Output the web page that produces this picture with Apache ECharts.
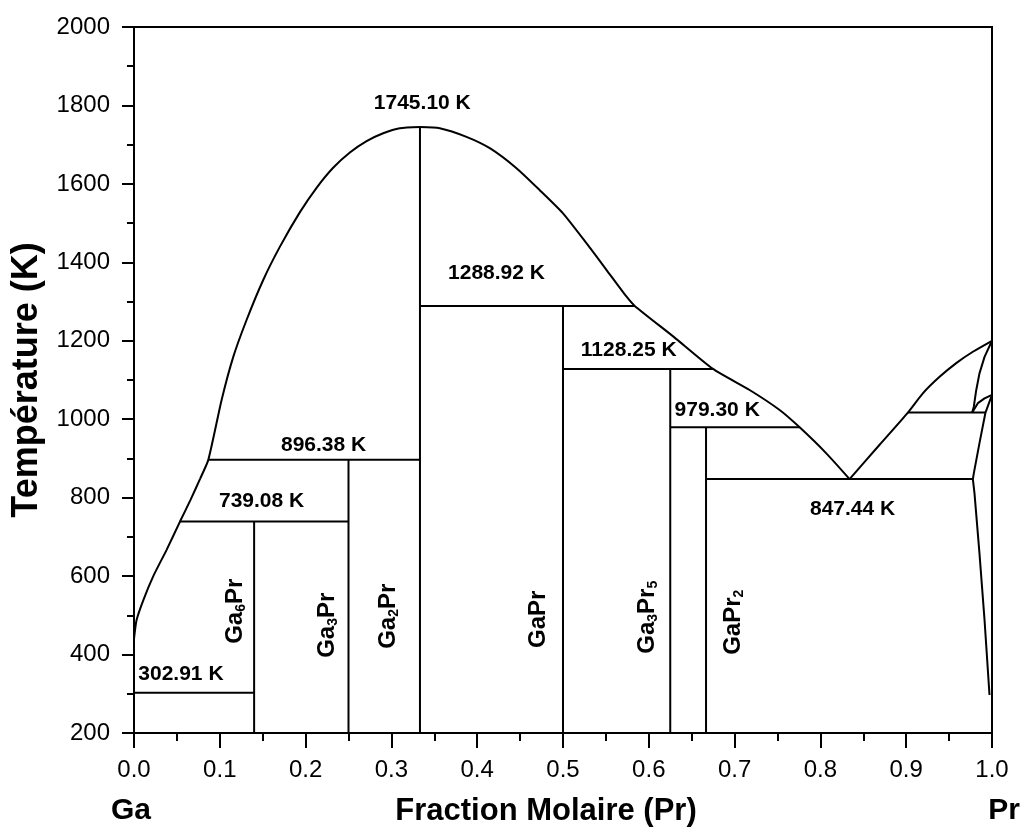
<!DOCTYPE html>
<html>
<head>
<meta charset="utf-8">
<title>Diagramme de phases Ga–Pr</title>
<script src="https://cdn.jsdelivr.net/npm/echarts@6/dist/echarts.min.js"></script>
<style>
  html, body { margin: 0; padding: 0; background: #fff; }
  #chart { width: 1023px; height: 832px; }
</style>
</head>
<body>
<div id="chart"></div>
<script>
// ---- Phase diagram data (x = fraction molaire de Pr, T en K) ----
const xTickLabels = ['0.0','0.1','0.2','0.3','0.4','0.5','0.6','0.7','0.8','0.9','1.0'];
const yTickLabels = ['200','400','600','800','1000','1200','1400','1600','1800','2000'];

// Liquidus, côté Ga jusqu'au maximum de Ga2Pr
const liquidusGaSide = [
  [0, 440], [0.003, 488], [0.0109, 539], [0.0225, 600], [0.038, 667],
  [0.0536, 739.08], [0.066, 795], [0.077, 848], [0.0866, 896.38],
  [0.1021, 1049], [0.1157, 1159], [0.1312, 1253], [0.1506, 1355], [0.1701, 1440],
  [0.1934, 1528], [0.2128, 1590], [0.2321, 1641], [0.2516, 1680], [0.2711, 1709],
  [0.2904, 1729], [0.3098, 1742], [0.3333, 1745.10]
];
// Liquidus, du maximum jusqu'à l'eutectique à 847.44 K
const liquidusDome = [
  [0.3333, 1745.10], [0.3564, 1742], [0.3875, 1720], [0.4147, 1691], [0.4458, 1640],
  [0.4729, 1584], [0.5, 1525], [0.5273, 1449], [0.5506, 1381], [0.5739, 1313],
  [0.5836, 1288.92], [0.6291, 1210], [0.6748, 1128.25], [0.7175, 1074.5],
  [0.7525, 1023.5], [0.7758, 979.30], [0.8069, 913], [0.834, 847.44]
];
// Liquidus, côté Pr
const liquidusPrSide = [
  [0.834, 847.44], [0.869, 935], [0.902, 1017], [0.9194, 1066],
  [0.9389, 1108], [0.9583, 1143], [0.9777, 1172], [1.0, 1200]
];
// Solidus de la solution solide Pr(β)
const betaPrSolidus = [
  [1.0, 1200], [0.9913, 1159], [0.9854, 1117], [0.9816, 1074], [0.9788, 1032], [0.9769, 1017]
];
// Petite boucle près de la transformation α/β de Pr
const betaPrLoop = [
  [0.9769, 1017], [0.9835, 1041], [0.9913, 1053], [1.0, 1062]
];
// Limite de la solution solide Pr(α)
const alphaPrSolvus = [
  [1.0, 1062], [0.9924, 1017], [0.9854, 939], [0.9788, 862], [0.9777, 847.44],
  [0.9796, 811], [0.9854, 658], [0.9913, 488], [0.9971, 297]
];

// Paliers invariants (T, début, fin)
const tieT    = [302.91, 739.08, 896.38, 1288.92, 1128.25, 979.30, 847.44, 1017];
const tieFrom = [0,      0.0536, 0.0866, 0.3333,  0.5,     0.625,  0.6667, 0.902];
const tieTo   = [0.14,   0.25,   0.3333, 0.5836,  0.6748,  0.7758, 0.9777, 0.9924];

// Températures annotées
const labelT = [302.91, 739.08, 896.38, 1745.10, 1288.92, 1128.25, 979.30, 847.44];

// Composés définis
const compoundNames = ['Ga6Pr', 'Ga3Pr', 'Ga2Pr', 'GaPr', 'Ga3Pr5', 'GaPr2'];
const compoundX     = [0.14, 0.25, 0.3333, 0.5, 0.625, 0.6667];
const compoundTop   = [739.08, 896.38, 1745.10, 1288.92, 1128.25, 979.30];

// ---- Label layout (screen offsets in px) ----
const labelX  = [0.0547, 0.1487, 0.221, 0.336, 0.4225, 0.5766, 0.6797, 0.8375];
const labelDy = [-18, -20, -15, -24, -33, -19, -17, 30];
const compoundLabelT  = 490;
const compoundLabelDx = [-19, -21, -32, -25, -23, 27];
const compoundLabelDy = [-8, 6, -3, 0, -2, 3];

const FONT = '"Liberation Sans", Arial, Helvetica, sans-serif';
const BLACK = '#000';

function curve(data, smooth) {
  return {
    type: 'line', data: data, showSymbol: false, symbol: 'none',
    smooth: smooth ? 0.2 : false,
    lineStyle: { color: BLACK, width: 2 }, silent: true, z: 3
  };
}

function segment(a, b) {
  return {
    type: 'line', data: [a, b], showSymbol: false, symbol: 'none',
    lineStyle: { color: BLACK, width: 2 }, silent: true, z: 3
  };
}

function richName(name) {
  return name.replace(/([A-Za-z]+)|(\d+)/g, function (m, letters, digits) {
    return letters ? '{m|' + letters + '}' : '{s|' + digits + '}';
  });
}

const series = [
  curve(liquidusGaSide, true),
  curve(liquidusDome, true),
  curve(liquidusPrSide, true),
  curve(betaPrSolidus, false),
  curve(betaPrLoop, false),
  curve(alphaPrSolvus, false)
];

tieT.forEach(function (t, i) {
  series.push(segment([tieFrom[i], t], [tieTo[i], t]));
});

compoundX.forEach(function (x, i) {
  series.push(segment([x, 200], [x, compoundTop[i]]));
});

// Température labels
series.push({
  type: 'scatter', symbolSize: 0, silent: true, z: 5,
  itemStyle: { opacity: 1 },
  data: labelT.map(function (t, i) {
    return {
      value: [labelX[i], t],
      label: { offset: [0, labelDy[i]] }
    };
  }),
  label: {
    show: true, position: 'inside',
    formatter: function (p) { return p.value[1].toFixed(2) + ' K'; },
    fontFamily: FONT, fontWeight: 'bold', fontSize: 21, color: BLACK, opacity: 1
  }
});

// Compound labels, rotated (offset is given in the label's rotated frame)
series.push({
  type: 'scatter', symbolSize: 0, silent: true, z: 5,
  itemStyle: { opacity: 1 },
  data: compoundNames.map(function (n, i) {
    return {
      value: [compoundX[i], compoundLabelT],
      name: n,
      label: { offset: [-compoundLabelDy[i], compoundLabelDx[i]] }
    };
  }),
  label: {
    show: true, position: 'inside', rotate: 90, opacity: 1,
    formatter: function (p) { return richName(p.name); },
    rich: {
      m: { fontFamily: FONT, fontWeight: 'bold', fontSize: 24, color: BLACK, lineHeight: 26 },
      s: { fontFamily: FONT, fontWeight: 'bold', fontSize: 14, color: BLACK, lineHeight: 6, verticalAlign: 'bottom' }
    }
  }
});

const chart = echarts.init(document.getElementById('chart'), null, { renderer: 'canvas' });

chart.setOption({
  animation: false,
  backgroundColor: '#fff',
  grid: {
    left: 134, right: 31, top: 27, bottom: 99,
    show: true, borderColor: BLACK, borderWidth: 2,
    containLabel: false, outerBoundsMode: 'none'
  },
  xAxis: {
    type: 'value', min: 0, max: 1, interval: 0.1,
    axisLine: { show: true, onZero: false, lineStyle: { color: BLACK, width: 2 } },
    axisTick: { show: true, inside: false, length: 15, lineStyle: { color: BLACK, width: 2 } },
    minorTick: { show: true, splitNumber: 2, length: 8, lineStyle: { color: BLACK, width: 2 } },
    splitLine: { show: false },
    minorSplitLine: { show: false },
    axisLabel: {
      margin: 25, fontFamily: FONT, fontSize: 24, color: BLACK,
      formatter: function (v) { return xTickLabels[Math.round(v * 10)]; }
    }
  },
  yAxis: {
    type: 'value', min: 200, max: 2000, interval: 200,
    axisLine: { show: true, onZero: false, lineStyle: { color: BLACK, width: 2 } },
    axisTick: { show: true, inside: false, length: 12, lineStyle: { color: BLACK, width: 2 } },
    minorTick: { show: true, splitNumber: 2, length: 7, lineStyle: { color: BLACK, width: 2 } },
    splitLine: { show: false },
    minorSplitLine: { show: false },
    axisLabel: {
      margin: 24, fontFamily: FONT, fontSize: 24, color: BLACK,
      formatter: function (v) { return yTickLabels[Math.round((v - 200) / 200)]; }
    }
  },
  graphic: [
    {
      type: 'text', x: 27, y: 380, rotation: Math.PI / 2, silent: true,
      style: {
        text: 'Température (K)', fill: BLACK,
        font: 'bold 36px ' + FONT,
        align: 'center', verticalAlign: 'middle',
        textAlign: 'center', textVerticalAlign: 'middle'
      }
    },
    {
      type: 'text', x: 546, y: 811, silent: true,
      style: {
        text: 'Fraction Molaire (Pr)', fill: BLACK,
        font: 'bold 31px ' + FONT,
        align: 'center', verticalAlign: 'middle',
        textAlign: 'center', textVerticalAlign: 'middle'
      }
    },
    {
      type: 'text', x: 131, y: 811, silent: true,
      style: {
        text: 'Ga', fill: BLACK, font: 'bold 30px ' + FONT,
        align: 'center', verticalAlign: 'middle',
        textAlign: 'center', textVerticalAlign: 'middle'
      }
    },
    {
      type: 'text', x: 1004, y: 811, silent: true,
      style: {
        text: 'Pr', fill: BLACK, font: 'bold 30px ' + FONT,
        align: 'center', verticalAlign: 'middle',
        textAlign: 'center', textVerticalAlign: 'middle'
      }
    }
  ],
  series: series
});
</script>
</body>
</html>
